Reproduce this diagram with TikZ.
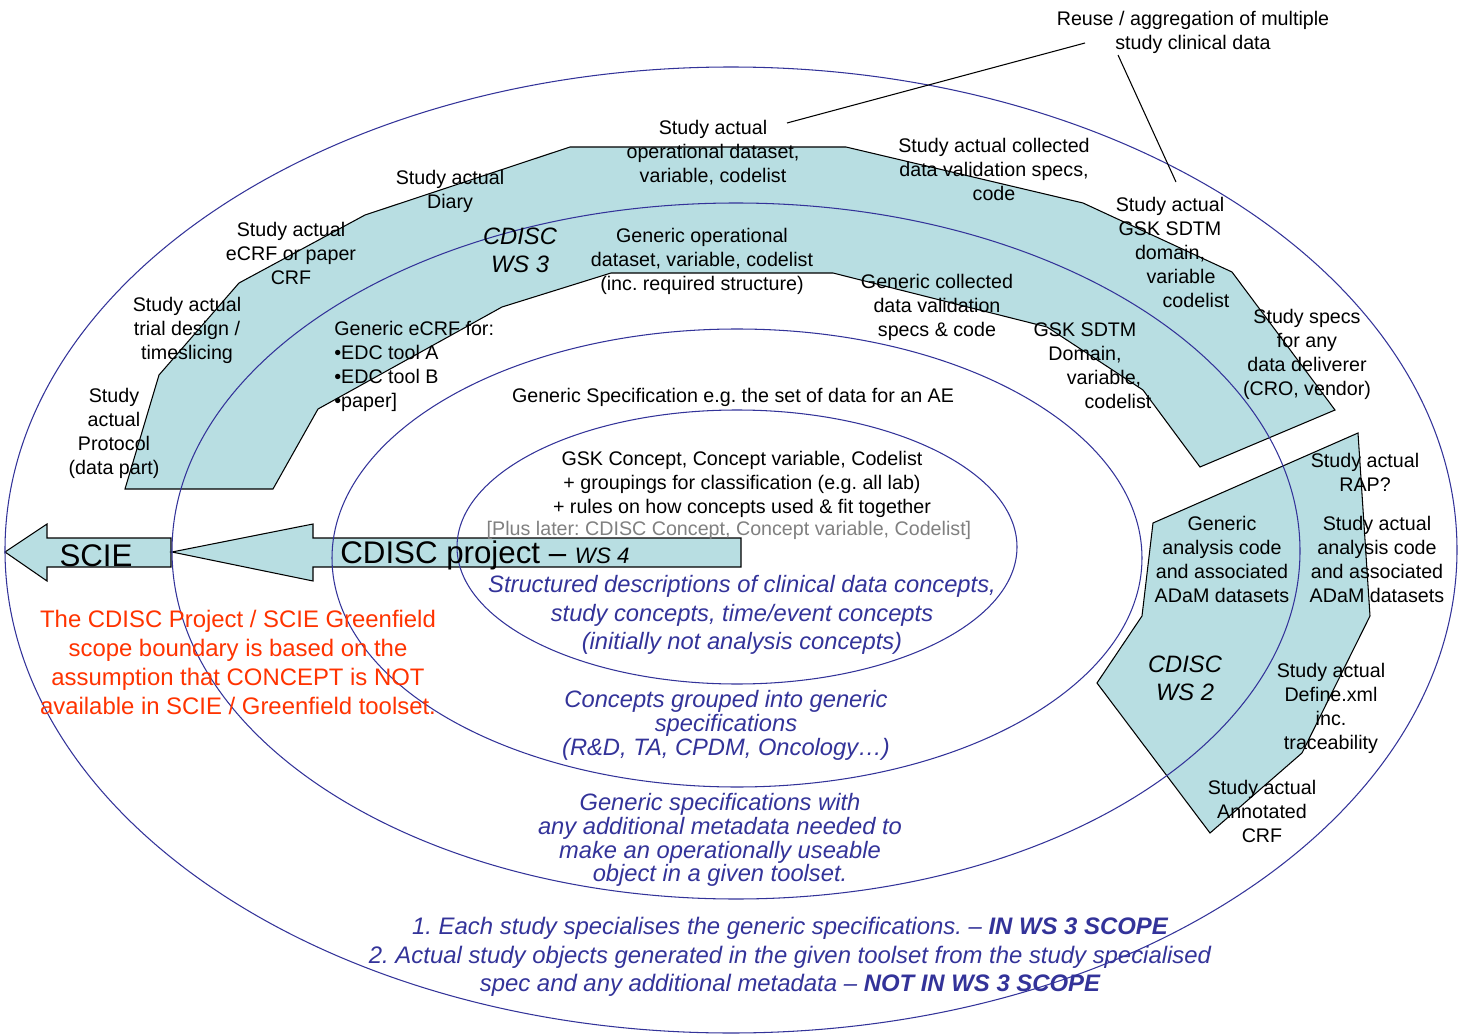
\documentclass[tikz,border=0pt]{standalone}
\usepackage{fontspec}
\setmainfont{Liberation Sans}
\frenchspacing
\definecolor{bandfill}{RGB}{184,222,226}
\definecolor{ringblue}{RGB}{51,51,153}
\definecolor{scopered}{RGB}{255,51,0}
\definecolor{latergray}{RGB}{128,128,128}
\begin{document}
\begin{tikzpicture}[
        x=0.02cm, y=-0.02cm,
        band/.style={draw=black, fill=bandfill, line width=0.6pt},
        ring/.style={draw=ringblue, line width=0.6pt},
        txt/.style={align=center, inner sep=0pt, yshift=-0.04cm, font=\fontsize{11.2}{13.66}\selectfont},
        bigtxt/.style={inner sep=0pt, yshift=-0.05cm, font=\fontsize{17.8}{20}\selectfont},
        wslabel/.style={align=center, inner sep=0pt, yshift=-0.03cm, font=\fontsize{13.5}{15.9}\selectfont\itshape},
        bluetxt/.style={align=center, inner sep=0pt, yshift=-0.04cm, text=ringblue, font=\fontsize{13.5}{16.2}\selectfont\itshape},
        redtxt/.style={align=center, inner sep=0pt, yshift=-0.02cm, text=scopered, font=\fontsize{13.6}{16.5}\selectfont}
    ]

    % page frame (pixel units, y down)
    \useasboundingbox (0,0) rectangle (1465,1034);

    % --- work stream bands ---
    % WS 3: study actual outside, generic inside
    \draw[band] (125,489) -- (159,375) -- (239,283) -- (365,215) -- (570,147) --
        (846,147) -- (1083,203) -- (1232,272) -- (1335,410) -- (1200,467) --
        (1143,390) -- (1047,327) -- (833,273) -- (611,273) -- (502,307) --
        (318,409) -- (273,489) -- cycle;
    % WS 2
    \draw[band] (1358,433) -- (1370,616) -- (1302,753) -- (1210,833) --
        (1097,683) -- (1142,616) -- (1153,523) -- cycle;

    % --- block arrows ---
    \draw[band] (5,552) -- (47,524) -- (47,538) -- (171,538) -- (171,567) --
        (47,567) -- (47,581) -- cycle;
    \draw[band] (172,552) -- (313,524) -- (313,538) -- (741,538) -- (741,567) --
        (313,567) -- (313,581) -- cycle;

    % --- rings, outside to inside ---
    \draw[ring] (731,550) ellipse [x radius=726, y radius=483];
    \draw[ring] (736,551) ellipse [x radius=564, y radius=348];
    \draw[ring] (737,558) ellipse [x radius=405, y radius=229];
    \draw[ring] (737,547) ellipse [x radius=280, y radius=137];

    % (name, x, y, text)
    \def\labeldata{
        {reuse/1193/30/{Reuse / aggregation of multiple\\study clinical data}},
        {opdata/713/151/{Study actual\\operational dataset,\\variable, codelist}},
        {valspec/994/167/{Study actual collected\\data validation specs,\\code}},
        {diary/450/189/{Study actual\\Diary}},
        {ecrf/291/251/{Study actual\\eCRF or paper\\CRF}},
        {trial/187/328/{Study actual\\trial design /\\timeslicing}},
        {protocol/114/431/{Study\\actual\\Protocol\\(data part)}},
        {genop/702/259/{Generic operational\\dataset, variable, codelist\\(inc. required structure)}},
        {genval/937/305/{Generic collected\\data validation\\specs \& code}},
        {deliver/1307/352/{Study specs\\for any\\data deliverer\\(CRO, vendor)}},
        {genspec/733/395/{Generic Specification e.g. the set of data for an AE}},
        {concept/742/482/{GSK Concept, Concept variable, Codelist\\+ groupings for classification (e.g. all lab)\\+ rules on how concepts used \& fit together}},
        {rap/1365/470/{Study actual\\RAP?}},
        {genadam/1222/557/{Generic\\analysis code\\and associated\\ADaM datasets}},
        {studyadam/1377/557/{Study actual\\analysis code\\and associated\\ADaM datasets}},
        {define/1331/706/{Study actual\\Define.xml\\inc.\\traceability}},
        {acrf/1262/809/{Study actual\\Annotated\\CRF}}%
    }

    % add labels
    \foreach \name/\x/\y/\body in \labeldata {
        \node[txt] (\name) at (\x,\y) {\body};
    }

    % staggered labels
    \node[txt] (sdtmstudy) at (1170,250) {Study actual\\GSK SDTM\\domain,\\\hspace*{0.44cm}variable\\\hspace*{1.04cm}codelist};
    \node[txt] (sdtmgen) at (1085,364) {GSK SDTM\\Domain,\\\hspace*{0.76cm}variable,\\\hspace*{1.32cm}codelist};
    \node[txt, align=left, anchor=west] (ecrfgen) at (334,364) {Generic eCRF for:\\•EDC tool A\\•EDC tool B\\•paper]};
    \node[txt, text=latergray] (later) at (729,528) {[Plus later: CDISC Concept, Concept variable, Codelist]};

    \node[wslabel] (ws3) at (520,249) {CDISC\\WS 3};
    \node[wslabel] (ws2) at (1185,677) {CDISC\\WS 2};

    \node[bigtxt] (scie) at (96,553) {SCIE};
    \node[bigtxt, anchor=west] (cdisc) at (340,553) {CDISC project – {\fontsize{12.7}{14}\selectfont\itshape WS 4}};

    % --- blue ring notes ---
    \node[bluetxt] (structured) at (742,613) {Structured descriptions of clinical data concepts,\\study concepts, time/event concepts\\(initially not analysis concepts)};
    \node[bluetxt, font=\fontsize{13.5}{12.5}\selectfont\itshape] (grouped) at (726,723) {Concepts grouped into generic\\specifications\\(R\&D, TA, CPDM, Oncology…)};
    \node[bluetxt, font=\fontsize{13.5}{12.3}\selectfont\itshape] (withmeta) at (720,838) {Generic specifications with\\any additional metadata needed to\\make an operationally useable\\object in a given toolset.};
    \node[bluetxt, font=\fontsize{13.6}{16.2}\selectfont\itshape] (scope) at (790,955) {1. Each study specialises the generic specifications. – \textbf{IN WS 3 SCOPE}\\2. Actual study objects generated in the given toolset from the study specialised\\spec and any additional metadata – \textbf{NOT IN WS 3 SCOPE}};

    \node[redtxt] (boundary) at (238,661) {The CDISC Project / SCIE Greenfield\\scope boundary is based on the\\assumption that CONCEPT is NOT\\available in SCIE / Greenfield toolset.};

    % --- reuse pointers ---
    \coordinate (opdataend) at (787,123);
    \coordinate (reuseleft) at (1085,43);
    \coordinate (reusebottom) at (1118,55);
    \coordinate (sdtmtop) at (1176,182);
    \draw[line width=0.6pt] (opdataend) -- (reuseleft);
    \draw[line width=0.6pt] (reusebottom) -- (sdtmtop);

    \end{tikzpicture}
\end{document}
